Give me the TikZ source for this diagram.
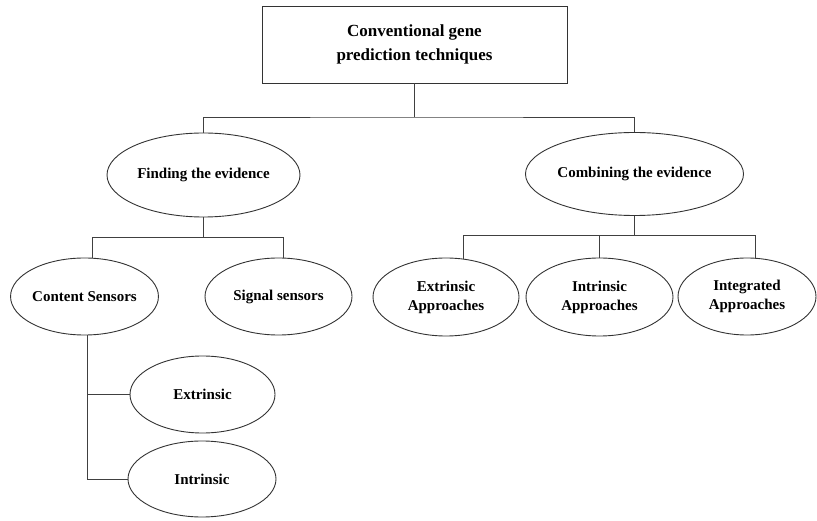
\documentclass[tikz,border=0pt]{standalone}
\usepackage{fontspec}
\setmainfont{Liberation Serif}
\usetikzlibrary{shapes.geometric,calc}

\tikzset{
  link/.style={draw=black!75, line width=0.9pt},
  headbox/.style={draw=black!80, line width=0.9pt, rectangle, inner sep=0pt,
    minimum width=305pt, minimum height=77pt, align=center,
    font=\fontsize{17}{24}\selectfont\bfseries},
  oval/.style={draw=black!80, line width=0.9pt, ellipse, inner sep=0pt, align=center,
    font=\fontsize{15}{19}\selectfont\bfseries}
}

\begin{document}
\begin{tikzpicture}[x=1pt,y=1pt]
\useasboundingbox (0,0) rectangle (817,-521);

% root of the tree
\node[headbox] (top) at (414.5,-44.5) {Conventional gene\\prediction techniques};

% first level
\node[oval, minimum width=193pt, minimum height=84pt] (find) at (203.5,-175) {Finding the evidence};
\node[oval, minimum width=189pt, minimum height=83pt] (comb) at (634.5,-174) {Combining the evidence};

% sensors
\node[oval, minimum width=145pt, minimum height=77pt] (cs) at (84.5,-296.5) {Content Sensors};
\node[oval, minimum width=147pt, minimum height=77pt] (ss) at (278.5,-296.5) {Signal sensors};

% approaches
\node[oval, minimum width=146pt, minimum height=78pt] (ea) at (446,-297) {Extrinsic\\Approaches};
\node[oval, minimum width=147pt, minimum height=78pt] (ia) at (599.5,-297) {Intrinsic\\Approaches};
\node[oval, minimum width=138pt, minimum height=77pt] (ga) at (747,-296.5) {Integrated\\Approaches};

% content sensor kinds
\node[oval, minimum width=145pt, minimum height=77pt] (ext) at (202.5,-394.5) {Extrinsic};
\node[oval, minimum width=148pt, minimum height=76pt] (intr) at (202,-479) {Intrinsic};

% bus junctions
\coordinate (b1) at (414.5,-117);
\coordinate (b2) at ($(find.south)+(0,-20)$);
\coordinate (b3) at ($(comb.south)+(0,-20)$);

% connectors
\draw[link] (top.south) -- (b1);
\draw[link] (find.north) |- (b1) -| (comb.north);

\draw[link] (find.south) -- (b2);
\draw[link] (cs.78) |- (b2) -| (ss.83);

\draw[link] (comb.south) -- (b3);
\draw[link] (ea.66) |- (b3) -| (ga.77);
\draw[link] (ia.north) -- (ia.north |- b3);

\draw[link] (cs.-86) |- (ext.west);
\draw[link] (cs.-86) |- (intr.west);
\end{tikzpicture}
\end{document}
